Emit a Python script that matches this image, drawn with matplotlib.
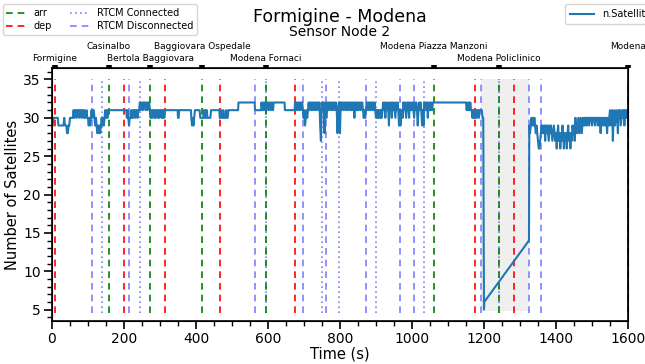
import numpy as np
import matplotlib.pyplot as plt
from matplotlib.ticker import MultipleLocator

# stations on the line (top axis)
stations = ['Formigine', 'Casinalbo', 'Bertola Baggiovara', 'Baggiovara Ospedale',
            'Modena Fornaci', 'Modena Piazza Manzoni', 'Modena Policlinico', 'Modena']
station_t = [8, 158, 273, 417, 595, 1060, 1242, 1600]

arr_t = [158, 273, 417, 595, 1060, 1242, 1600]
dep_t = [9, 200, 314, 467, 675, 1174, 1284]
rtcm_conn = [139, 244, 595, 749, 797, 899, 1033, 1242]
rtcm_disc = [110, 215, 564, 698, 760, 872, 967, 1006, 1193, 1326, 1358]

gap_span = [1192, 1324]

# n.Satellites, noisy parts sampled every 2 s
sat_0 = [29, 29, 30, 30, 30, 30, 30, 30, 30, 29, 29, 29, 29, 29, 29, 29, 29, 30, 29, 29,
         29, 28, 28, 29, 29, 30, 30, 30, 30, 30, 31, 30, 31, 31, 30, 31, 31, 31, 30, 31,
         31, 30, 31, 31, 30, 31, 30, 30, 31, 30, 30, 29, 30, 29, 30, 31, 30, 31, 31, 30,
         29, 30, 29, 28, 29, 28, 29, 28, 29, 30, 29, 30, 29, 30, 31, 30, 31, 30, 31, 31, 31]
sat_1 = [30, 31, 30, 29, 30, 30, 31, 30, 31, 30, 31, 31, 30, 31, 31, 30, 31, 31, 32, 31,
         32, 32, 31, 32, 32, 32, 31, 32, 32, 31, 32, 32, 31, 30, 31, 30, 31, 31, 30, 31,
         30, 31, 31, 30, 31, 30, 31, 31, 30, 31, 30, 31, 30, 31]
sat_2 = [30, 30, 30, 30, 30, 31, 30, 31, 30, 31, 30, 30, 30, 30, 30, 31]
sat_3 = [30, 30, 31, 30, 30, 31, 30, 30, 30, 31, 30, 30, 31]
sat_4 = [32, 31, 32, 31, 32, 31, 32, 31, 32, 32, 31, 32, 32, 31, 32, 32, 31, 32]
sat_5 = [32, 31, 32, 31, 32, 32, 31, 32, 31, 32, 32, 31, 30, 31, 29, 30, 31, 30, 31, 32,
         31, 32, 32, 31, 32, 31, 32, 32, 31, 32, 31, 32, 32, 31, 32, 29, 27, 31, 32, 31,
         32, 28, 32, 31, 30, 32, 31, 32, 31, 32, 32, 31, 32, 31, 32, 32, 31, 32, 31, 28,
         31, 32, 32]
sat_6 = [28, 32, 31, 32, 32, 31, 32, 32, 31, 32, 32, 31, 32, 32, 31, 32, 31, 32, 31, 32,
         30, 32, 31, 32, 31, 32, 31, 32, 32, 31, 32, 32, 31, 30, 31, 30, 31, 32, 32, 31,
         32, 32, 31, 32, 32, 31, 32, 31, 32, 31, 30, 31, 30, 31, 30, 31, 30, 31, 30, 31,
         32, 31, 32, 30, 32, 31, 32, 31, 29, 32, 31, 32, 30, 32, 31, 32, 31, 30, 32, 31,
         32, 31, 29, 31, 29, 31, 31, 30, 32, 31, 32, 31, 30, 32, 31, 32, 30, 32, 31, 32,
         31, 32, 31, 30, 32, 31, 32, 31, 29, 31, 32, 31, 32, 31, 29, 31, 29, 32, 31, 32,
         31, 32, 30, 32, 31, 32, 31, 32, 31, 32, 32]
sat_7 = [31, 32, 31, 32, 31, 32, 31, 31, 30, 31, 30, 31, 30, 31, 30, 31, 31, 30, 31, 31,
         31, 31, 30, 30]
sat_8 = [29, 28, 29, 30, 29, 30, 29, 30, 29, 28, 29, 28, 27, 26, 26, 27, 28, 29, 28, 29,
         28, 29, 27, 29, 28, 29, 28, 27, 29, 28, 29, 28, 27, 28, 29, 28, 27, 28, 26, 28,
         29, 27, 28, 26, 28, 27, 29, 28, 26, 28, 27, 28, 26, 28, 29, 27, 28, 26, 28, 27,
         29, 28, 29, 27, 30, 28, 29, 28, 30, 29, 28, 30, 29, 28, 30, 29, 30, 29, 30, 30,
         29, 30, 30, 29, 30, 30, 30, 29, 30, 30, 30, 29, 30, 30, 30, 29, 30, 29, 30, 28,
         30, 29, 30, 29, 30, 30, 29, 30, 28, 30, 29, 30, 31, 29, 30, 31, 27, 30, 31, 29,
         30, 31, 30, 28, 31, 30, 31, 29, 30, 31, 30, 31, 29, 31, 30, 31, 30, 31]
seg_start = [0, 208, 412, 466, 582, 675, 800, 1152, 1326]
seg_vals = [sat_0, sat_1, sat_2, sat_3, sat_4, sat_5, sat_6, sat_7, sat_8]

# flat stretches and the data gap
flat_t = [206, 349, 350, 352, 353, 386, 387, 389, 391, 393, 395, 397, 410, 465,
          517, 518, 563, 564, 581, 646, 647, 674, 1150, 1200, 1201, 1325]
flat_v = [31, 31, 30, 30, 31, 31, 30, 29, 30, 29, 30, 31, 31, 31,
          31, 32, 32, 31, 31, 32, 31, 31, 32, 5, 6, 14]

tt = list(flat_t)
vv = list(flat_v)
for s, vals in zip(seg_start, seg_vals):
    for i, v in enumerate(vals):
        tt.append(s + 2 * i)
        vv.append(v)
order = np.argsort(tt)
tt = np.array(tt)[order]
vv = np.array(vv)[order]

fig = plt.figure(figsize=(6.45, 3.64), dpi=100)
ax = fig.add_axes([0.0806, 0.1181, 0.893, 0.6951])

ymin, ymax = 4.5, 35.0
ax.fill_between(gap_span, 4.8, 35.1, color='lightgray', alpha=0.35, lw=0)
ax.vlines(rtcm_conn, ymin, ymax, colors='#7f7fff', linestyles=(0, (1, 2)), lw=1.2, label='RTCM Connected')
ax.vlines(rtcm_disc, ymin, ymax, colors='#7f7fff', linestyles=(0, (4, 3)), lw=1.2, label='RTCM Disconnected')
ax.vlines(arr_t, ymin, ymax, colors='green', linestyles=(0, (4, 3)), lw=1.2, label='arr')
ax.vlines(dep_t, ymin, ymax, colors='red', linestyles=(0, (4, 3)), lw=1.2, label='dep')
sat_line, = ax.plot(tt, vv, color='#1f77b4', lw=1.5, label='n.Satellites')

ax.set_xlim(0, 1600)
ax.set_ylim(3.5, 36.5)
ax.xaxis.set_major_locator(MultipleLocator(200))
ax.xaxis.set_minor_locator(MultipleLocator(50))
ax.yaxis.set_major_locator(MultipleLocator(5))
ax.yaxis.set_minor_locator(MultipleLocator(1))
ax.tick_params(which='major', length=6, width=1.2, labelsize=10, pad=2)
ax.tick_params(which='minor', length=3.5, width=1)
for sp in ax.spines.values():
    sp.set_linewidth(1.2)
ax.set_xlabel('Time (s)', fontsize=10.5, labelpad=0)
ax.set_ylabel('Number of Satellites', fontsize=10.5, labelpad=2)

# station ticks on top, labels in two staggered rows
top = ax.twiny()
top.set_xlim(ax.get_xlim())
top.set_xticks(station_t)
top.set_xticklabels([])
top.tick_params(length=2.5, width=4)
top.xaxis.set_minor_locator(plt.NullLocator())
for i, (s, t) in enumerate(zip(stations, station_t)):
    ypos = 1.036 if i % 2 == 0 else 1.083
    ax.text(t, ypos, s, transform=ax.get_xaxis_transform(), ha='center', va='center',
            fontsize=6.5)

handles, labels = ax.get_legend_handles_labels()
hmap = dict(zip(labels, handles))
order_lbl = ['arr', 'dep', 'RTCM Connected', 'RTCM Disconnected']
fig.legend([hmap[k] for k in order_lbl], order_lbl, ncol=2, loc='upper left',
           bbox_to_anchor=(0.004, 0.988), fontsize=7, handlelength=2, columnspacing=1.8,
           labelspacing=0.3, borderpad=0.4, handletextpad=0.8, borderaxespad=0)
fig.legend([sat_line], ['n.Satellites'], loc='upper left', bbox_to_anchor=(0.876, 0.988),
           fontsize=7, handlelength=2.5, borderpad=0.5, borderaxespad=0)

cx = 0.0806 + 0.893 / 2
fig.text(cx, 0.952, 'Formigine - Modena', ha='center', va='center', fontsize=12.5)
fig.text(cx, 0.912, 'Sensor Node 2', ha='center', va='center', fontsize=10)

fig.savefig('out.png', dpi=100)
